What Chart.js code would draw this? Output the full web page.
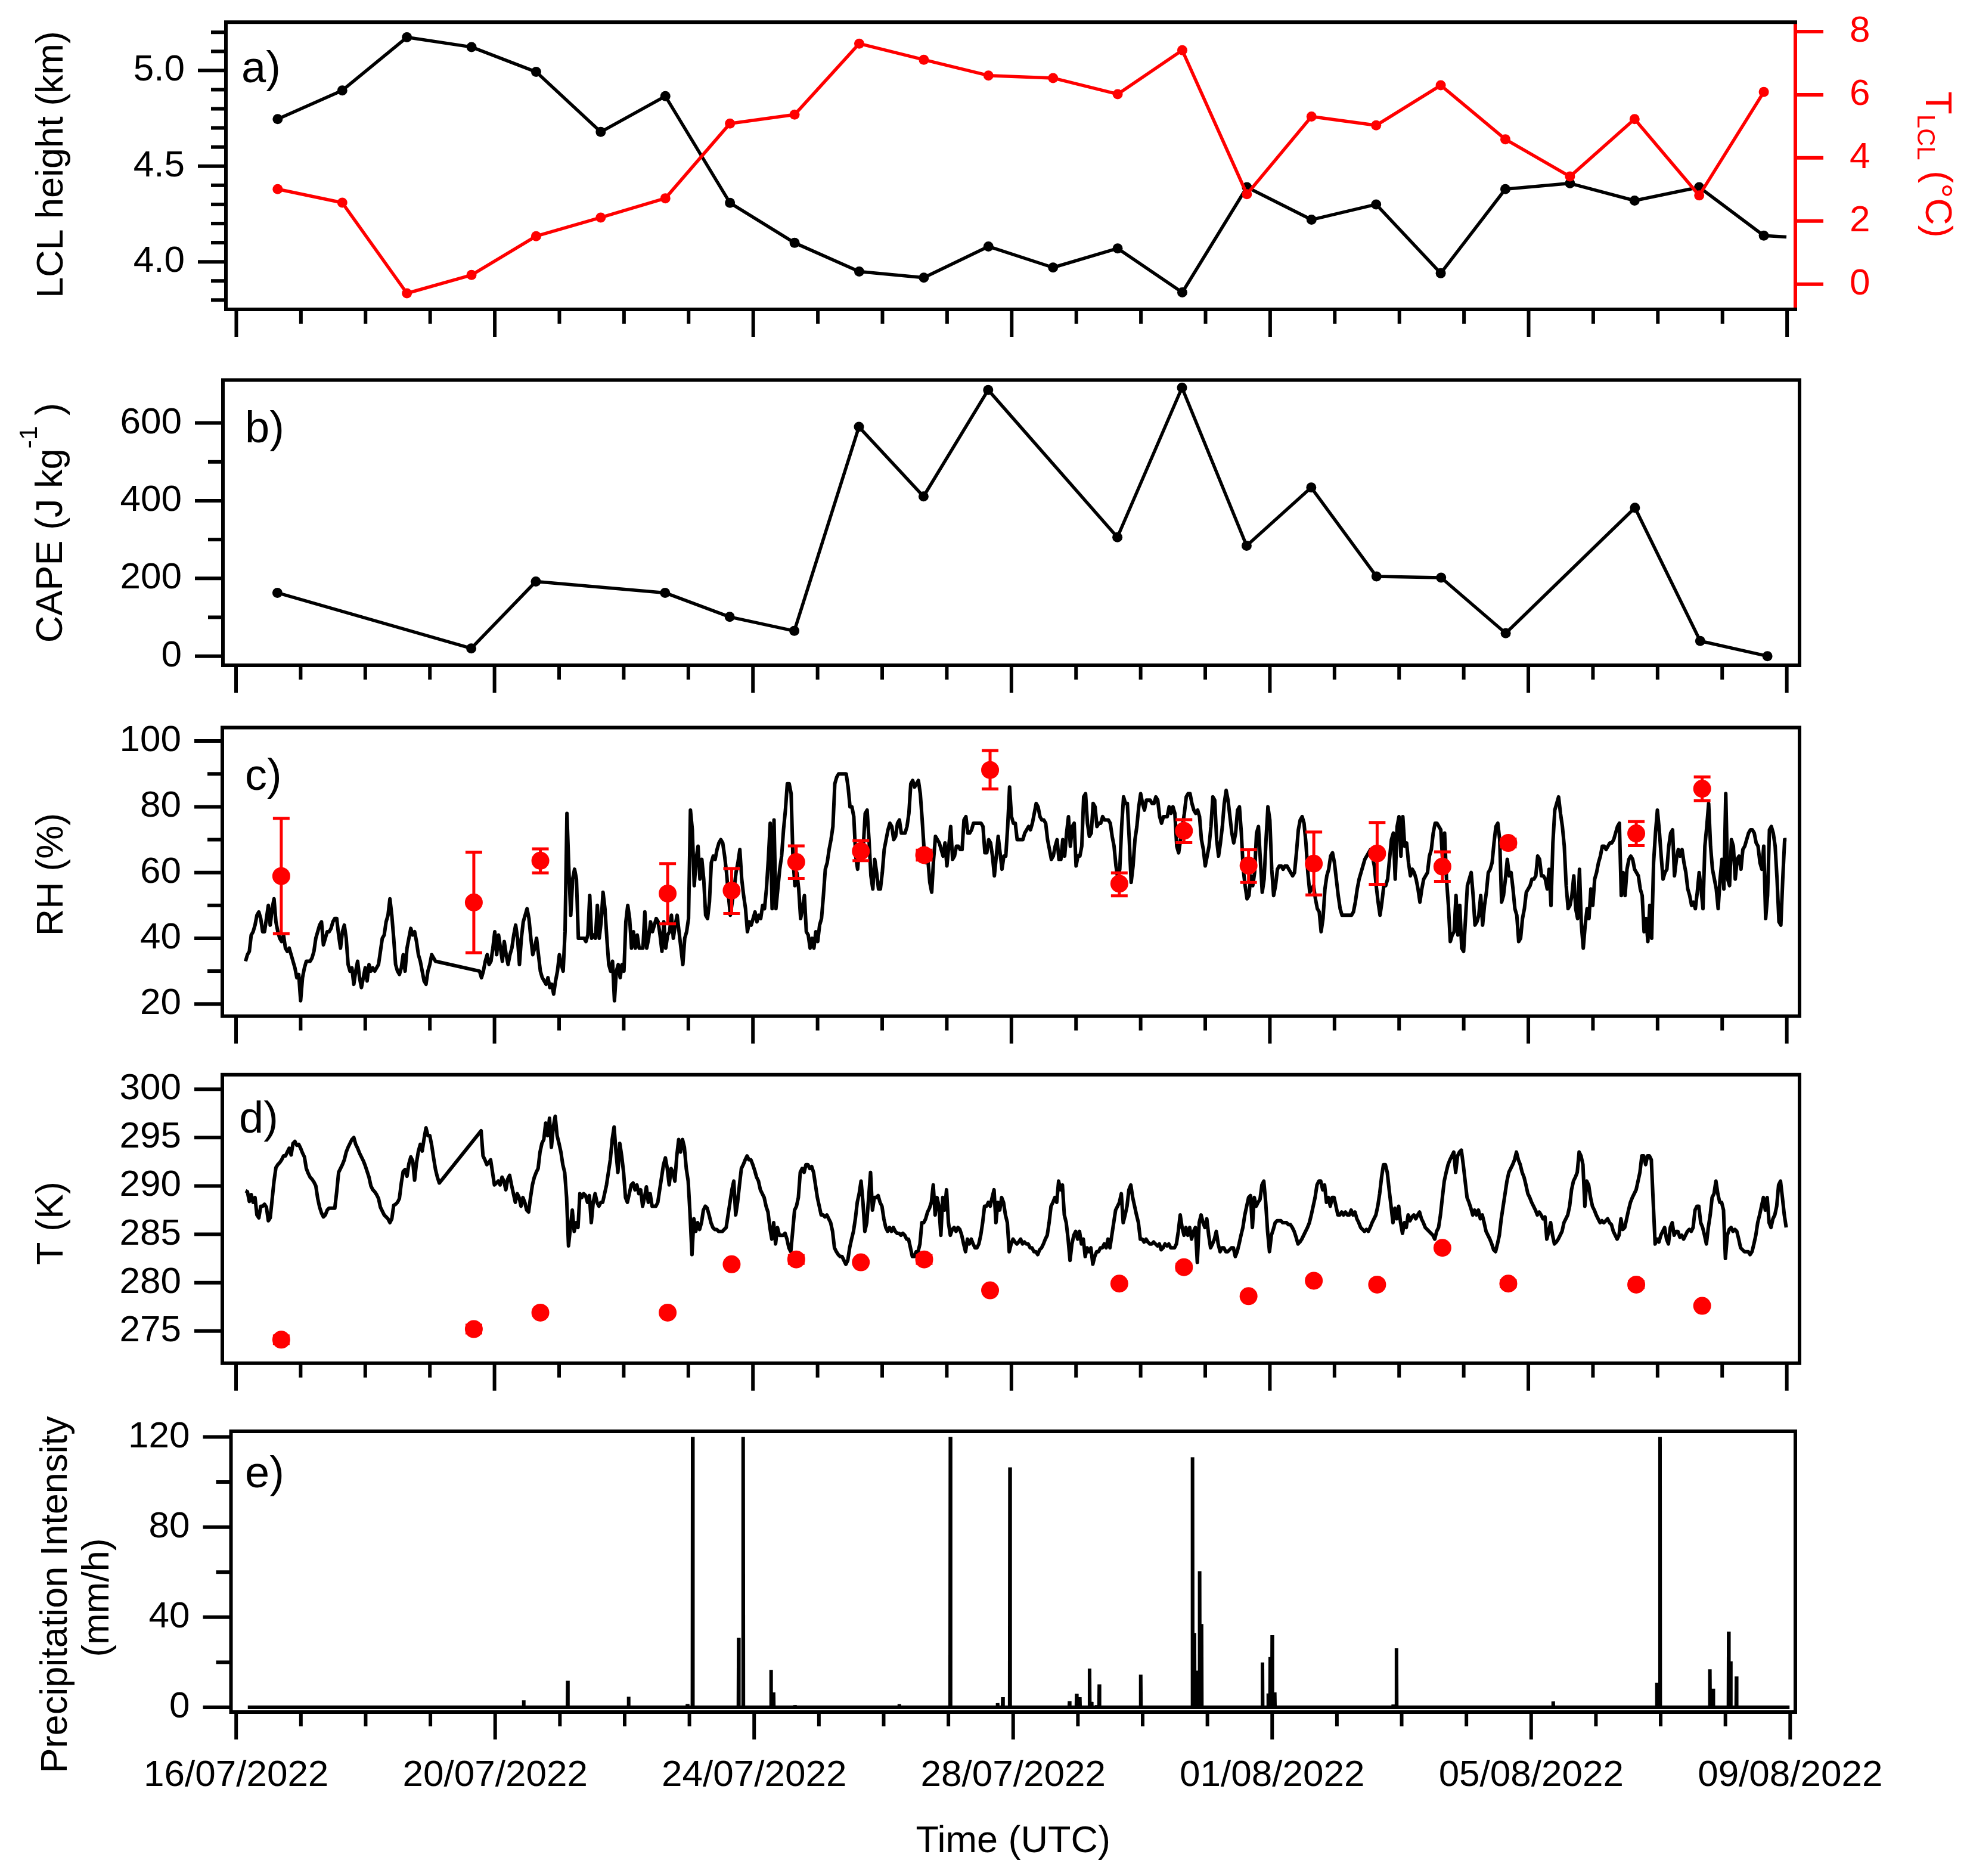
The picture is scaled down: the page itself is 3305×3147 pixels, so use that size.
<!DOCTYPE html>
<html><head><meta charset="utf-8">
<script src="https://cdn.jsdelivr.net/npm/chart.js@4.4.1/dist/chart.umd.min.js"></script>
<style>
html,body{margin:0;padding:0;background:#fff;}
body{width:3305px;height:3147px;position:relative;overflow:hidden;}
canvas{position:absolute;left:0;}
</style>
</head><body>
<canvas id="cA" width="3305" height="600" style="top:0px;width:3305px;height:600px"></canvas>
<canvas id="cB" width="3305" height="570" style="top:600px;width:3305px;height:570px"></canvas>
<canvas id="cC" width="3305" height="590" style="top:1170px;width:3305px;height:590px"></canvas>
<canvas id="cD" width="3305" height="580" style="top:1760px;width:3305px;height:580px"></canvas>
<canvas id="cE" width="3305" height="807" style="top:2340px;width:3305px;height:807px"></canvas>
<script>
// ===================== DATA (time in days since 16/07/2022 00:00 UTC) =====================
const X_MAJOR_DAYS = [0,4,8,12,16,20,24];
const X_MINOR_DAYS = [1,2,3,5,6,7,9,10,11,13,14,15,17,18,19,21,22,23];
const X_TICK_LABELS = ['16/07/2022','20/07/2022','24/07/2022','28/07/2022','01/08/2022','05/08/2022','09/08/2022'];
const X_TITLE = 'Time (UTC)';

// (a) LCL height and T_LCL at sounding times
const SONDE_DAYS = [0.64,1.64,2.64,3.64,4.64,5.64,6.64,7.64,8.64,9.64,10.64,11.64,12.64,13.64,14.64,15.64,16.64,17.64,18.64,19.64,20.64,21.64,22.64,23.64];
const LCL_TIME = [0.64,1.64,2.64,3.64,4.64,5.64,6.64,7.64,8.64,9.64,10.64,11.64,12.64,13.64,14.64,15.64,16.64,17.64,18.64,19.64,20.64,21.64,22.64,23.64,23.99];
const LCL_HEIGHT = [4.746,4.896,5.174,5.123,4.993,4.679,4.866,4.308,4.099,3.949,3.917,4.08,3.97,4.07,3.84,4.39,4.22,4.30,3.94,4.38,4.41,4.32,4.39,4.137,4.13];
const T_LCL = [3.01,2.58,-0.29,0.29,1.52,2.11,2.72,5.09,5.37,7.62,7.11,6.61,6.53,6.02,7.41,2.85,5.31,5.03,6.30,4.59,3.41,5.23,2.81,6.09];
const LCL_TICKS = [4.0,4.5,5.0];
const LCL_MINOR = [3.8,3.9,4.1,4.2,4.3,4.4,4.6,4.7,4.8,4.9,5.1,5.2];
const TLCL_TICKS = [0,2,4,6,8];

// (b) CAPE
const CAPE_TIME = [0.64,3.64,4.64,6.64,7.64,8.64,9.64,10.64,11.64,13.64,14.64,15.64,16.64,17.65,18.65,19.65,21.65,22.66,23.70];
const CAPE = [163,20,192,163,101,65,590,411,685,306,691,284,434,205,202,59,382,39,0];
const CAPE_TICKS = [0,200,400,600];
const CAPE_MINOR = [100,300,500];

// (c) RH, surface record sampled every SAMPLE_STEP days, one gap (21-22/07)
const SAMPLE_STEP = 0.0294;
const RH_SEG1_START = 0.147;
const RH_SEG1 = [33,35,36,41,42,44,47,48,46,42,42,46,50,44,49,52,45,42,40,39,41,37,36,37,35,33,31,28,29,21,28,31,33,33,33,34,36,40,42,44,45,38,40,42,42,43,45,46,46,41,37,42,44,40,32,30,31,26,30,33,28,25,28,31,27,32,30,31,30,31,32,36,40,41,45,47,52,47,40,32,30,29,31,35,30,37,40,43,41,42,39,35,33,30,27,26,30,32,35,34,33];
const RH_SEG2_START = 3.769;
const RH_SEG2 = [30,28,30,33,35,32,33,37,42,35,41,37,33,39,35,32,35,37,41,44,40,32,40,45,47,49,46,40,35,37,40,35,30,28,27,26,28,25,26,23,27,30,35,32,30,42,78,61,47,58,61,58,40,40,40,40,39,41,53,40,41,40,50,40,45,54,49,40,32,30,33,21,30,32,28,32,30,45,50,46,37,42,37,41,37,37,37,48,37,40,45,42,44,46,45,41,36,45,37,41,42,47,40,44,47,42,37,32,40,42,46,79,73,56,64,68,58,64,58,47,46,51,63,65,64,67,69,70,69,65,60,53,47,51,55,60,63,67,58,53,49,42,45,44,46,48,45,47,46,50,49,55,64,75,49,76,49,55,61,65,73,79,87,87,84,64,56,60,55,46,49,53,42,41,37,
40,37,42,39,44,46,53,61,63,67,70,74,87,89,90,90,90,90,90,86,80,80,77,65,61,68,67,68,78,79,70,59,55,64,60,55,55,60,67,70,73,75,74,70,71,75,76,72,72,72,74,78,87,88,86,87,88,84,76,67,63,64,57,54,64,71,70,69,67,65,69,62,68,74,64,65,68,68,67,67,76,77,72,72,73,75,75,75,75,75,74,66,66,70,69,65,59,65,71,66,61,65,65,74,86,77,75,75,70,70,70,70,72,73,74,73,75,78,81,80,77,76,76,75,70,67,64,65,68,70,64,64,70,65,72,77,68,74,75,62,65,65,68,83,84,75,71,72,81,80,74,75,75,77,76,76,76,75,71,68,62,58,61,74,83,81,81,70,57,62,70,74,80,84,81,79,82,82,82,81,81,83,82,77,75,77,77,77,80,78,80,78,68,66,70,74,78,83,84,84,81,79,78,79,77,70,67,62,65,68,74,83,82,70,65,69,74,81,85,82,77,72,69,72,79,80,72,61,56,52,53,59,56,60,72,74,64,54,58,70,80,76,61,53,56,61,62,62,61,62,62,61,60,59,60,66,73,76,77,75,69,60,54,55,56,52,49,48,42,46,55,59,61,65,66,63,58,53,49,47,47,47,47,47,47,48,51,55,58,60,62,64,65,66,67,65,62,56,51,47,51,56,56,58,64,70,72,
58,74,77,65,77,68,69,63,59,61,60,58,55,51,55,58,59,60,65,67,72,75,75,74,73,63,72,58,50,39,41,42,53,41,50,37,36,46,56,58,60,53,44,45,47,53,44,50,54,60,61,63,69,74,75,70,51,53,58,64,59,60,55,49,47,39,40,46,49,54,55,56,58,58,59,65,64,59,59,58,55,61,50,69,79,81,83,78,74,68,56,49,50,53,59,49,46,61,44,37,44,49,46,55,50,58,60,63,65,68,68,67,68,69,69,70,72,74,75,53,60,53,61,64,65,64,61,60,59,55,53,42,46,39,50,40,63,72,79,73,65,58,60,61,68,72,73,59,64,67,65,67,63,60,55,53,50,51,49,54,60,55,49,68,74,81,68,61,58,55,49,58,64,55,84,58,56,70,68,58,64,65,61,67,68,70,72,73,73,72,69,68,63,61,68,46,53,73,74,72,68,58,45,44,58,70,70];
// radiosonde RH mean with spread
const RH_SONDE_TIME = [0.70,3.68,4.71,6.68,7.67,8.67,9.67,10.65,11.67,13.67,14.67,15.67,16.68,17.66,18.67,19.69,21.67,22.69];
const RH_SONDE = [58.9,50.9,63.6,53.6,54.5,63.2,66.5,65.3,91.2,56.6,72.7,62.1,62.7,65.8,61.8,69.0,71.9,85.5];
const RH_SONDE_LOW = [41.4,35.6,59.9,44.4,47.5,58.2,63.6,63.8,85.4,52.9,69.1,57.0,53.2,56.4,57.3,67.8,68.2,81.9];
const RH_SONDE_HIGH = [76.5,66.2,67.2,62.7,61.2,68.1,69.7,66.8,97.1,59.9,76.1,66.9,72.3,75.2,66.3,70.2,75.5,89.1];
const RH_TICKS = [20,40,60,80,100];
const RH_MINOR = [30,50,70,90];

// (d) Temperature
const T_SEG1_START = 0.147;
const T_SEG1 = [289.5,289.4,288.4,289.1,288.3,288.8,287.0,286.7,287.9,287.9,288.1,287.8,286.4,286.7,288.6,290.5,291.9,292.2,292.4,292.7,293.1,293.1,293.5,293.9,293.2,294.4,294.6,294.2,294.3,293.9,293.4,293.0,291.8,291.3,290.9,290.7,290.4,290.0,288.7,287.8,287.2,286.8,287.0,287.5,287.7,287.7,287.7,287.7,289.4,291.4,291.8,292.2,292.7,293.5,294.0,294.4,294.8,295.0,294.3,293.9,293.4,293.0,292.6,292.1,291.5,290.9,290.0,289.6,289.4,289.1,288.7,287.8,287.4,287.0,286.8,286.6,286.2,286.6,288.0,288.1,288.3,288.7,290.3,291.5,291.7,291.0,292.3,293.0,292.6,290.6,292.4,293.6,294.3,293.6,294.9,296.0,295.2,295.2,294.2,292.9,291.7,290.9,290.3];
const T_SEG2_START = 3.793;
const T_SEG2 = [295.7,293.1,292.7,292.2,292.4,292.7,291.4,290.1,290.3,290.5,290.1,290.9,290.5,289.6,290.7,291.1,290.1,289.2,288.3,289.2,288.8,287.9,288.8,288.3,287.5,287.3,288.8,290.1,290.9,291.4,291.8,293.5,294.4,294.8,296.5,295.2,297.0,294.0,296.1,297.2,295.2,294.4,293.5,292.2,291.4,288.8,283.8,285.7,287.5,285.3,286.2,285.7,289.2,288.8,289.2,289.0,288.3,289.0,286.2,288.3,289.2,288.3,287.9,288.3,288.3,289.2,290.1,291.4,292.7,294.8,296.1,293.5,291.4,294.4,293.1,291.4,288.8,288.3,289.2,290.1,290.3,289.6,290.1,289.2,289.6,287.9,288.8,289.9,288.3,289.2,287.9,287.9,287.9,288.3,289.6,290.9,292.2,292.9,291.8,290.1,291.8,291.4,290.5,293.1,294.8,293.5,294.8,294.0,291.8,290.5,287.0,
282.9,286.6,285.3,286.2,285.5,286.2,287.5,287.9,287.7,287.0,286.2,285.7,285.5,285.5,285.3,285.3,285.3,285.5,285.7,287.0,288.3,289.6,290.5,287.0,288.3,290.1,291.8,292.2,292.7,293.1,292.7,292.7,292.2,291.6,290.9,290.5,289.6,289.2,288.8,287.9,287.3,285.7,284.5,286.2,284.0,285.7,284.9,284.9,284.9,285.1,284.5,283.6,283.2,285.3,287.5,287.9,288.8,291.4,291.8,291.4,292.2,292.2,291.8,
292.0,291.4,290.1,288.8,287.9,287.0,287.0,286.8,287.0,286.6,286.2,285.3,283.6,283.2,282.9,282.7,282.7,282.3,281.9,282.3,283.6,284.5,285.3,286.6,288.3,289.2,290.5,288.3,285.3,286.2,288.8,291.4,287.5,288.8,288.8,289.0,288.3,287.9,286.6,285.7,285.3,285.7,285.3,285.7,285.3,285.1,285.1,284.9,285.1,284.9,284.5,284.5,283.6,282.7,282.7,283.2,283.2,284.0,286.2,286.2,286.6,287.3,287.7,288.3,290.1,287.0,288.8,287.9,284.9,288.8,287.5,289.6,286.2,284.9,285.5,285.7,285.3,285.7,285.5,284.9,284.0,283.2,284.5,284.0,284.5,284.0,283.6,283.6,284.0,284.9,286.2,287.9,287.9,288.3,287.9,288.8,289.6,286.2,288.3,287.5,288.8,288.3,287.0,286.2,283.2,284.0,284.5,284.2,284.0,284.2,284.5,284.0,284.2,284.0,284.0,283.6,283.6,283.2,283.2,282.9,283.4,283.6,284.0,284.5,284.9,286.2,287.9,288.3,288.8,288.3,290.5,289.6,290.1,287.0,286.2,284.5,282.3,284.0,284.9,285.3,284.5,285.3,284.0,284.5,282.7,283.6,283.2,283.6,281.9,282.7,283.2,283.2,283.6,283.6,284.0,283.6,284.5,283.6,284.9,286.2,287.5,287.9,288.3,289.2,286.2,287.0,287.9,289.6,290.1,288.8,287.9,287.0,286.2,284.5,284.5,284.2,284.5,284.2,284.0,284.0,284.2,284.0,283.8,284.0,283.4,283.6,284.0,283.8,284.0,283.6,283.6,283.6,284.0,285.3,287.0,285.7,284.9,285.7,284.9,285.7,284.5,285.3,285.7,282.1,286.2,287.0,286.2,285.7,286.6,284.9,283.6,284.0,284.5,285.3,284.0,283.2,283.6,283.6,283.2,283.2,283.4,283.6,283.6,282.7,283.2,284.0,284.9,285.7,287.0,287.9,288.8,289.0,285.7,288.8,287.9,288.3,288.6,290.1,290.5,288.3,285.3,283.2,284.9,285.5,286.2,286.4,286.4,286.4,286.2,286.2,286.2,286.0,286.0,285.7,285.3,284.7,284.0,284.2,284.5,284.9,285.3,285.7,286.2,287.0,287.9,288.8,290.1,290.5,290.5,289.6,290.1,288.3,288.8,287.9,288.8,288.8,287.9,287.0,287.0,287.3,287.0,287.3,287.0,287.0,287.5,287.0,287.3,286.6,286.2,285.7,285.5,285.3,285.5,285.3,285.7,286.2,286.6,287.0,287.9,289.2,290.9,292.2,292.2,291.4,289.6,287.9,286.2,
287.7,286.6,287.9,286.2,285.1,286.2,285.7,287.0,286.4,286.8,287.0,286.6,287.0,287.3,286.6,286.2,285.7,285.5,285.3,285.1,284.9,284.5,285.3,285.7,287.0,288.8,290.5,291.4,292.2,292.7,293.1,293.5,291.4,293.1,293.5,293.7,292.2,290.5,288.8,288.3,287.7,287.0,287.5,287.0,287.5,286.6,287.0,286.2,285.3,284.9,284.5,284.0,283.4,283.2,284.0,284.9,286.6,287.9,289.2,290.5,291.4,291.8,292.2,292.7,293.5,292.7,292.2,291.4,290.9,290.1,289.2,288.8,288.3,287.9,287.5,287.0,287.3,287.0,286.6,286.8,284.5,285.3,286.2,284.9,284.0,284.2,284.5,284.9,285.3,286.2,286.6,287.0,287.9,289.6,290.5,290.9,291.4,293.5,293.1,292.2,287.9,290.5,290.1,288.8,287.9,287.5,287.0,286.6,286.2,286.4,286.2,286.4,286.6,286.2,286.0,285.3,284.9,284.5,284.9,286.6,285.5,285.7,286.6,287.5,288.3,288.8,289.2,289.6,290.5,291.4,293.1,293.1,292.2,293.1,293.1,292.7,288.3,284.0,284.5,284.2,284.9,285.3,285.7,284.5,284.0,285.7,286.2,284.9,285.3,285.3,284.7,284.9,284.5,284.9,285.3,285.5,285.3,285.7,287.5,287.9,287.9,286.2,285.7,284.9,284.0,285.7,287.0,288.8,289.2,290.5,289.2,288.3,288.3,287.5,282.5,284.9,285.5,285.7,285.3,285.5,285.3,284.5,283.6,283.4,283.2,283.2,283.2,282.9,283.2,284.0,284.9,286.2,287.0,287.9,288.8,287.5,288.8,286.2,285.7,286.6,287.0,287.9,290.1,290.5,288.8,287.0,285.7];
const T_SONDE = [274.1,275.2,276.9,276.9,281.9,282.4,282.1,282.4,279.2,279.9,281.6,278.6,280.2,279.8,283.6,279.9,279.8,277.6];
const T_SONDE_ERR = [0.4,0.4,0,0,0,0.4,0,0.4,0,0,0.3,0,0,0,0,0.3,0.3,0];
const T_TICKS = [275,280,285,290,295,300];

// (e) Precipitation intensity (mm/h): record span and rain events
const PRECIP_START = 0.18, PRECIP_END = 23.99;
const PRECIP_TIME = [4.44,5.12,6.06,6.97,7.05,7.76,7.83,8.26,8.30,8.63,10.24,11.03,11.76,11.84,11.95,12.87,12.98,13.03,13.18,13.21,13.29,13.33,13.97,14.77,14.80,14.83,14.88,14.91,15.85,15.94,15.97,16.00,16.04,17.87,17.92,20.34,21.94,21.99,22.76,22.81,23.05,23.08,23.17];
const PRECIP = [3.1,11.8,4.7,1.4,120,30.8,120,16.6,6.6,1.0,1.4,120,1.9,4.5,106.5,2.7,6.0,4.5,17.2,2.4,1.0,10.2,14.5,111,33,16.3,60.4,37,19.9,6.2,22.3,32,6.6,1.2,26.2,2.6,10.9,120,16.9,8.3,33.6,20.4,13.7];
const PRECIP_TICKS = [0,40,80,120];
const PRECIP_MINOR = [20,60,100];

// ===================== RENDERING =====================
const FONT = "'Liberation Sans', Arial, Helvetica, sans-serif";
const RED = '#ff0000';
Chart.defaults.font.family = FONT;
Chart.defaults.color = '#000';

const pts = (xs, ys) => ys.map((y, i) => ({x: xs[i], y}));
const sampled = (start, vals) => vals.map((v, i) => ({x: start + i * SAMPLE_STEP, y: v}));
function precipPoints() {
  const out = [{x: PRECIP_START, y: 0}];
  PRECIP_TIME.forEach((t, i) => {
    out.push({x: t - 0.004, y: 0}, {x: t, y: PRECIP[i]}, {x: t + 0.004, y: 0});
  });
  out.push({x: PRECIP_END, y: 0});
  return out;
}

function drawRich(ctx, parts, cx, cy, rot, color) {
  ctx.save();
  ctx.translate(cx, cy);
  ctx.rotate(rot);
  ctx.fillStyle = color;
  ctx.textBaseline = 'alphabetic';
  ctx.textAlign = 'left';
  let total = 0;
  const widths = parts.map(p => { ctx.font = p.s + 'px ' + FONT; const w = ctx.measureText(p.t).width; total += w; return w; });
  let x = -total / 2;
  parts.forEach((p, i) => { ctx.font = p.s + 'px ' + FONT; ctx.fillText(p.t, x, p.dy || 0); x += widths[i]; });
  ctx.restore();
}

const deco = {
  id: 'deco',
  afterDatasetsDraw(chart, args, o) {
    if (!o.err) return;
    const ctx = chart.ctx, xs = chart.scales.x, ys = chart.scales.y;
    ctx.save();
    ctx.strokeStyle = RED; ctx.lineWidth = 5; ctx.lineCap = 'butt';
    o.err.t.forEach((t, i) => {
      const lo = o.err.lo[i], hi = o.err.hi[i];
      if (!(hi > lo)) return;
      const px = xs.getPixelForValue(t), p1 = ys.getPixelForValue(lo), p2 = ys.getPixelForValue(hi);
      ctx.beginPath();
      ctx.moveTo(px, p1); ctx.lineTo(px, p2);
      ctx.moveTo(px - 14, p1); ctx.lineTo(px + 14, p1);
      ctx.moveTo(px - 14, p2); ctx.lineTo(px + 14, p2);
      ctx.stroke();
    });
    ctx.restore();
  },
  afterDraw(chart, args, o) {
    const ctx = chart.ctx, ca = chart.chartArea, xs = chart.scales.x, yl = chart.scales.y;
    ctx.save();
    ctx.lineCap = 'butt';
    const seg = (x1, y1, x2, y2) => { ctx.beginPath(); ctx.moveTo(x1, y1); ctx.lineTo(x2, y2); ctx.stroke(); };
    ctx.lineWidth = 6; ctx.strokeStyle = '#000';
    (o.yMajor || []).forEach(v => { const p = yl.getPixelForValue(v); seg(ca.left - 47, p, ca.left, p); });
    (o.yMinor || []).forEach(v => { const p = yl.getPixelForValue(v); seg(ca.left - 25, p, ca.left, p); });
    X_MAJOR_DAYS.forEach(d => { const p = xs.getPixelForValue(d); seg(p, ca.bottom, p, ca.bottom + 46); });
    X_MINOR_DAYS.forEach(d => { const p = xs.getPixelForValue(d); seg(p, ca.bottom, p, ca.bottom + 24); });
    ctx.strokeRect(ca.left, ca.top, ca.right - ca.left, ca.bottom - ca.top);
    if (o.y2Major) {
      const y2 = chart.scales.y2;
      ctx.strokeStyle = RED;
      seg(ca.right, ca.top + 3, ca.right, ca.bottom - 3);
      o.y2Major.forEach(v => { const p = y2.getPixelForValue(v); seg(ca.right, p, ca.right + 47, p); });
    }
    if (o.label) {
      ctx.fillStyle = '#000';
      ctx.font = '74px ' + FONT;
      ctx.textBaseline = 'alphabetic'; ctx.textAlign = 'left';
      ctx.fillText(o.label.t, o.label.x, o.label.y);
    }
    ctx.restore();
    (o.titles || []).forEach(t => drawRich(ctx, t.parts, t.x, t.y, t.rot, t.color || '#000'));
  }
};
Chart.register(deco);

// label offset is given through the (invisible) tick length so it does not add vertical padding
function yAxis(min, max, width, ticks, opts) {
  opts = opts || {};
  return {
    type: 'linear', position: opts.position || 'left', min, max,
    afterFit: s => { s.width = width; },
    afterBuildTicks: s => { s.ticks = ticks.map(v => ({value: v})); },
    ticks: { padding: 0, autoSkip: false, color: opts.color || '#000',
             font: {size: 62}, callback: opts.fmt || (v => String(v)) },
    grid: {display: false, drawTicks: true, tickLength: opts.gap || 69},
    border: {display: false}
  };
}
function xHidden(min, max) {
  return { type: 'linear', min, max, display: false };
}
function base(padding, scales, datasets, deco) {
  return {
    type: 'line',
    data: {datasets},
    options: {
      responsive: false, animation: false, devicePixelRatio: 1,
      layout: {padding},
      scales,
      plugins: {legend: {display: false}, tooltip: {enabled: false}, deco},
      elements: {line: {tension: 0}}
    }
  };
}
const lineDs = (data, color, width, extra) => Object.assign({
  data, borderColor: color, backgroundColor: color, borderWidth: width, pointRadius: 0,
  borderJoinStyle: 'round', borderCapStyle: 'butt', fill: false
}, extra || {});

// ---- panel a ----
new Chart(document.getElementById('cA'), base(
  {left: 0, right: 0, top: 34, bottom: 81},
  {
    x: xHidden(-0.161, 24.128),
    y: yAxis(3.751, 5.253, 379, LCL_TICKS, {fmt: v => v.toFixed(1)}),
    y2: yAxis(-0.80, 8.30, 293, TLCL_TICKS, {position: 'right', gap: 91, color: RED})
  },
  [
    lineDs(pts(SONDE_DAYS, T_LCL), RED, 5.5, {yAxisID: 'y2', pointRadius: 8.5, pointBorderWidth: 0, order: 0}),
    lineDs(pts(LCL_TIME, LCL_HEIGHT), '#000', 5.5, {yAxisID: 'y', pointRadius: c => c.dataIndex === LCL_HEIGHT.length - 1 ? 0 : 8.5, pointBorderWidth: 0, order: 1})
  ],
  {
    yMajor: LCL_TICKS, yMinor: LCL_MINOR, y2Major: TLCL_TICKS,
    label: {t: 'a)', x: 405, y: 138},
    titles: [
      {parts: [{t: 'LCL height (km)', s: 63}], x: 105, y: 276, rot: -Math.PI / 2},
      {parts: [{t: 'T', s: 63}, {t: 'LCL', s: 42, dy: 14}, {t: ' (°C)', s: 63}], x: 3231, y: 276, rot: Math.PI / 2, color: RED}
    ]
  }
));

// ---- panel b ----
new Chart(document.getElementById('cB'), base(
  {left: 0, right: 286, top: 37.5, bottom: 54},
  { x: xHidden(-0.203, 24.197), y: yAxis(-23.5, 710.6, 374, CAPE_TICKS) },
  [ lineDs(pts(CAPE_TIME, CAPE), '#000', 5.5, {pointRadius: 8.5, pointBorderWidth: 0}) ],
  {
    yMajor: CAPE_TICKS, yMinor: CAPE_MINOR,
    label: {t: 'b)', x: 411, y: 142},
    titles: [ {parts: [{t: 'CAPE (J kg', s: 63}, {t: '-1', s: 43, dy: -42}, {t: ' )', s: 63}], x: 104, y: 277, rot: -Math.PI / 2} ]
  }
));

// ---- panel c ----
new Chart(document.getElementById('cC'), base(
  {left: 0, right: 286, top: 50.5, bottom: 55.4},
  { x: xHidden(-0.212, 24.197), y: yAxis(16.3, 104.1, 373, RH_TICKS) },
  [
    lineDs(pts(RH_SONDE_TIME, RH_SONDE), RED, 0, {showLine: false, pointRadius: 15, pointBorderWidth: 0, order: 0}),
    lineDs([...sampled(RH_SEG1_START, RH_SEG1), ...sampled(RH_SEG2_START, RH_SEG2)], '#000', 6, {order: 1})
  ],
  {
    yMajor: RH_TICKS, yMinor: RH_MINOR,
    err: {t: RH_SONDE_TIME, lo: RH_SONDE_LOW, hi: RH_SONDE_HIGH},
    label: {t: 'c)', x: 411, y: 155},
    titles: [ {parts: [{t: 'RH (%)', s: 63}], x: 105, y: 297, rot: -Math.PI / 2} ]
  }
));

// ---- panel d ----
new Chart(document.getElementById('cD'), base(
  {left: 0, right: 286, top: 42.8, bottom: 53.2},
  { x: xHidden(-0.212, 24.197), y: yAxis(271.67, 301.5, 373, T_TICKS) },
  [
    lineDs(pts(RH_SONDE_TIME, T_SONDE), RED, 0, {showLine: false, pointRadius: 15, pointBorderWidth: 0, order: 0}),
    lineDs([...sampled(T_SEG1_START, T_SEG1), ...sampled(T_SEG2_START, T_SEG2)], '#000', 6, {order: 1})
  ],
  {
    yMajor: T_TICKS, yMinor: [],
    err: {t: RH_SONDE_TIME, lo: T_SONDE.map((v, i) => v - T_SONDE_ERR[i]), hi: T_SONDE.map((v, i) => v + T_SONDE_ERR[i])},
    label: {t: 'd)', x: 401, y: 140},
    titles: [ {parts: [{t: 'T (K)', s: 63}], x: 105, y: 292, rot: -Math.PI / 2} ]
  }
));

// ---- panel e ----
new Chart(document.getElementById('cE'), base(
  {left: 0, right: 293, top: 61, bottom: 0},
  {
    x: {
      type: 'linear', min: -0.08, max: 24.08,
      afterFit: s => { s.height = 275; },
      afterBuildTicks: s => { s.ticks = X_MAJOR_DAYS.map(v => ({value: v})); },
      ticks: { padding: 0, autoSkip: false, maxRotation: 0, minRotation: 0, font: {size: 62},
               callback: (v, i) => X_TICK_LABELS[i] },
      grid: {display: false, drawTicks: true, tickLength: 70},
      border: {display: false},
      title: {display: true, text: X_TITLE, font: {size: 63, lineHeight: 1.2}, padding: {top: 0, bottom: 20}, color: '#000'}
    },
    y: yAxis(-2.1, 122.5, 387.5, PRECIP_TICKS)
  },
  [ lineDs(precipPoints(), '#000', 6, {borderJoinStyle: 'bevel'}) ],
  {
    yMajor: PRECIP_TICKS, yMinor: PRECIP_MINOR,
    label: {t: 'e)', x: 411, y: 155},
    titles: [
      {parts: [{t: 'Precipitation Intensity', s: 63}], x: 112, y: 335, rot: -Math.PI / 2},
      {parts: [{t: '(mm/h)', s: 63}], x: 182, y: 340, rot: -Math.PI / 2}
    ]
  }
));
</script>
</body></html>
